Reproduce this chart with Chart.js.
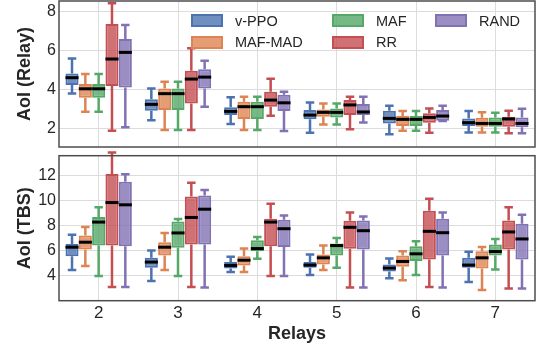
<!DOCTYPE html>
<html>
<head>
<meta charset="utf-8">
<script src="https://cdn.jsdelivr.net/npm/chart.js@4.4.1/dist/chart.umd.min.js"></script>
<style>
  body { margin: 0; background: #fff; width: 537px; height: 346px; overflow: hidden; position: relative;
         font-family: "Liberation Sans", Arial, sans-serif; }
  #topWrap { position: absolute; left: 0; top: 0; width: 537px; height: 150px; }
  #bottomWrap { position: absolute; left: 0; top: 150px; width: 537px; height: 196px; }
  #legend { position: absolute; left: 191px; top: 10px; display: grid; grid-auto-flow: column;
            grid-template-rows: 21.6px 21.6px; grid-template-columns: 141px 103px auto; }
  .item { display: flex; align-items: center; font-size: 14.5px; color: #262626; }
  .patch { box-sizing: border-box; width: 32px; height: 13px; border: 2px solid; margin-right: 12px; }
</style>
</head>
<body>
<div id="topWrap"><canvas id="relayChart"></canvas></div>
<div id="bottomWrap"><canvas id="tbsChart"></canvas></div>
<div id="legend"></div>
<script>
// categorias (numero de relays)
const relays = ['2', '3', '4', '5', '6', '7'];
const seriesNames = ['v-PPO', 'MAF-MAD', 'MAF', 'RR', 'RAND'];
const seriesColors = ['76,114,176', '221,132,82', '85,168,104', '196,78,82', '129,114,179'];

const relayTicks = [2, 4, 6, 8];
const tbsTicks = [4, 6, 8, 10, 12];

// cada caja: [min, q1, mediana, q3, max]
const relayVPPO = [[3.80,4.23,4.61,4.83,5.60],[2.43,2.91,3.24,3.50,4.06],[2.23,2.69,2.88,3.09,3.60],
                   [1.78,2.47,2.69,2.95,3.34],[1.70,2.26,2.52,2.91,3.17],[1.80,2.13,2.30,2.52,2.90]];
const relayMAFMAD = [[2.86,3.58,4.04,4.28,4.80],[1.92,2.95,3.79,4.06,4.40],[1.92,2.49,3.12,3.38,3.63],
                     [2.21,2.61,2.83,2.98,3.29],[1.89,2.13,2.47,2.64,2.90],[1.80,2.09,2.26,2.55,2.83]];
const relayMAF = [[2.86,3.58,4.04,4.28,4.80],[1.92,2.95,3.79,4.06,4.40],[1.92,2.49,3.12,3.38,3.63],
                  [2.21,2.57,2.83,3.03,3.29],[1.89,2.13,2.47,2.64,2.90],[1.80,2.09,2.26,2.57,2.81]];
const relayRR = [[1.89,4.18,5.57,7.37,8.43],[1.92,3.29,4.54,4.97,6.12],[2.66,3.12,3.46,3.89,4.56],
                 [1.96,2.69,3.21,3.46,3.63],[1.78,2.30,2.57,2.78,3.03],[1.75,2.09,2.49,2.61,2.91]];
const relayRAND = [[2.06,4.11,5.91,6.60,7.32],[3.12,4.06,4.64,5.05,5.48],[1.87,2.90,3.32,3.74,3.89],
                   [2.31,2.69,2.85,3.26,3.63],[2.38,2.40,2.64,2.95,3.17],[1.75,2.06,2.26,2.57,3.02]];

const tbsVPPO = [[4.45,5.56,6.28,6.54,7.28],[3.58,4.64,5.09,5.43,6.01],[4.29,4.58,4.82,5.09,5.51],
                 [4.05,4.64,4.85,5.09,5.70],[3.79,4.34,4.61,4.90,5.38],[3.50,4.64,4.85,5.43,5.91]];
const tbsMAFMAD = [[4.77,6.09,6.68,7.21,7.89],[4.45,5.62,6.28,6.68,7.42],[4.29,4.82,5.24,5.56,6.17],
                   [4.45,4.90,5.43,5.70,6.41],[3.63,4.72,5.14,5.62,5.96],[2.86,4.58,5.43,5.96,6.30]];
const tbsMAF = [[3.97,6.41,8.29,8.69,9.48],[3.97,6.23,7.42,8.34,8.53],[5.35,5.96,6.17,6.83,7.10],
                [4.64,5.62,6.41,6.57,7.02],[4.05,5.17,5.75,6.36,6.75],[4.50,5.62,5.93,6.49,6.94]];
const tbsRR = [[3.10,6.41,9.85,12.13,13.85],[3.10,6.49,8.66,10.33,11.44],[3.97,6.36,8.29,8.56,9.75],
               [3.05,6.15,7.87,8.40,9.06],[3.10,5.30,7.55,9.20,10.15],[2.97,6.09,7.50,8.42,9.48]];
const tbsRAND = [[3.10,6.36,9.67,11.52,12.11],[3.05,6.49,9.32,10.41,10.86],[3.97,6.30,7.76,8.48,8.82],
                 [3.05,6.09,7.60,8.42,8.74],[3.05,5.62,7.44,8.56,9.06],[2.97,5.30,6.94,8.16,8.87]];

const TEXT = '#262626';
const FONT = '"Liberation Sans", Arial, sans-serif';

// bigotes y medianas dibujados con las escalas del grafico
const boxPlugin = {
    id: 'boxWhiskers',
    beforeDatasetsDraw(chart) {
        const ctx = chart.ctx;
        const y = chart.scales.y;
        chart.data.datasets.forEach((ds, i) => {
            chart.getDatasetMeta(i).data.forEach((bar, j) => {
                const s = ds.stats[j];
                const capW = bar.width * 0.65;
                ctx.save();
                ctx.strokeStyle = ds.borderColor;
                ctx.lineWidth = 2.5;
                ctx.beginPath();
                ctx.moveTo(bar.x, y.getPixelForValue(s[3]));
                ctx.lineTo(bar.x, y.getPixelForValue(s[4]));
                ctx.moveTo(bar.x, y.getPixelForValue(s[1]));
                ctx.lineTo(bar.x, y.getPixelForValue(s[0]));
                ctx.moveTo(bar.x - capW / 2, y.getPixelForValue(s[4]));
                ctx.lineTo(bar.x + capW / 2, y.getPixelForValue(s[4]));
                ctx.moveTo(bar.x - capW / 2, y.getPixelForValue(s[0]));
                ctx.lineTo(bar.x + capW / 2, y.getPixelForValue(s[0]));
                ctx.stroke();
                ctx.restore();
            });
        });
    },
    afterDatasetsDraw(chart) {
        const ctx = chart.ctx;
        const y = chart.scales.y;
        chart.data.datasets.forEach((ds, i) => {
            chart.getDatasetMeta(i).data.forEach((bar, j) => {
                const m = y.getPixelForValue(ds.stats[j][2]);
                ctx.save();
                ctx.strokeStyle = '#000';
                ctx.lineWidth = 3;
                ctx.beginPath();
                ctx.moveTo(bar.x - bar.width / 2, m);
                ctx.lineTo(bar.x + bar.width / 2, m);
                ctx.stroke();
                ctx.restore();
            });
        });
    },
    afterDraw(chart) {
        const a = chart.chartArea;
        const ctx = chart.ctx;
        ctx.save();
        ctx.strokeStyle = '#4d4d4d';
        ctx.lineWidth = 1.5;
        ctx.strokeRect(a.left, a.top, a.right - a.left, a.bottom - a.top);
        ctx.restore();
    }
};

function buildDatasets(series) {
    return series.map((stats, i) => ({
        label: seriesNames[i],
        data: stats.map(s => [s[1], s[3]]),
        stats: stats,
        backgroundColor: `rgba(${seriesColors[i]},0.8)`,
        borderColor: `rgb(${seriesColors[i]})`,
        borderWidth: 2,
        borderSkipped: false,
        categoryPercentage: 0.84,
        barPercentage: 0.98
    }));
}

function makeChart(canvasId, series, yMin, yMax, ticks, yTitle, isBottom) {
    return new Chart(document.getElementById(canvasId), {
        type: 'bar',
        data: { labels: relays, datasets: buildDatasets(series) },
        plugins: [boxPlugin],
        options: {
            responsive: true,
            maintainAspectRatio: false,
            animation: false,
            devicePixelRatio: 1,
            layout: { padding: isBottom ? { top: 5.7, right: 2, left: 0, bottom: 0 } : { top: 1, right: 2, left: 0, bottom: 3 } },
            plugins: { legend: { display: false }, tooltip: { enabled: false } },
            scales: {
                x: {
                    grid: { offset: false, color: '#dcdcdc', lineWidth: 1, drawTicks: false },
                    border: { display: false },
                    ticks: { display: isBottom, color: TEXT, padding: 2, font: { family: FONT, size: 17 } },
                    title: {
                        display: isBottom, text: 'Relays', color: TEXT,
                        font: { family: FONT, size: 18, weight: 'bold' }, padding: { top: 0, bottom: 1 }
                    },
                    afterFit: s => {
                        s.height = isBottom ? 45.3 : 0;
                        s.paddingLeft = 0;
                        s.paddingRight = 0;
                    }
                },
                y: {
                    min: yMin,
                    max: yMax,
                    grid: { color: '#dcdcdc', lineWidth: 1, drawTicks: false },
                    border: { display: false },
                    ticks: { color: TEXT, padding: 3, font: { family: FONT, size: 16 } },
                    afterBuildTicks: s => { s.ticks = ticks.map(v => ({ value: v })); },
                    title: {
                        display: true, text: yTitle, color: TEXT,
                        font: { family: FONT, size: 18, weight: 'bold' }, padding: { top: 14, bottom: 0 }
                    },
                    afterFit: s => {
                        s.width = 59;
                        s.paddingTop = 0;
                        s.paddingBottom = 0;
                    }
                }
            }
        }
    });
}

makeChart('relayChart', [relayVPPO, relayMAFMAD, relayMAF, relayRR, relayRAND], 1.05, 8.55, relayTicks, 'AoI (Relay)', false);
makeChart('tbsChart', [tbsVPPO, tbsMAFMAD, tbsMAF, tbsRR, tbsRAND], 2.0, 13.6, tbsTicks, 'AoI (TBS)', true);

// leyenda (orden por columnas, como en la figura)
const legend = document.getElementById('legend');
seriesNames.forEach((name, i) => {
    const item = document.createElement('div');
    item.className = 'item';
    const patch = document.createElement('span');
    patch.className = 'patch';
    patch.style.background = `rgba(${seriesColors[i]},0.8)`;
    patch.style.borderColor = `rgb(${seriesColors[i]})`;
    item.appendChild(patch);
    item.appendChild(document.createTextNode(name));
    legend.appendChild(item);
});
</script>
</body>
</html>
